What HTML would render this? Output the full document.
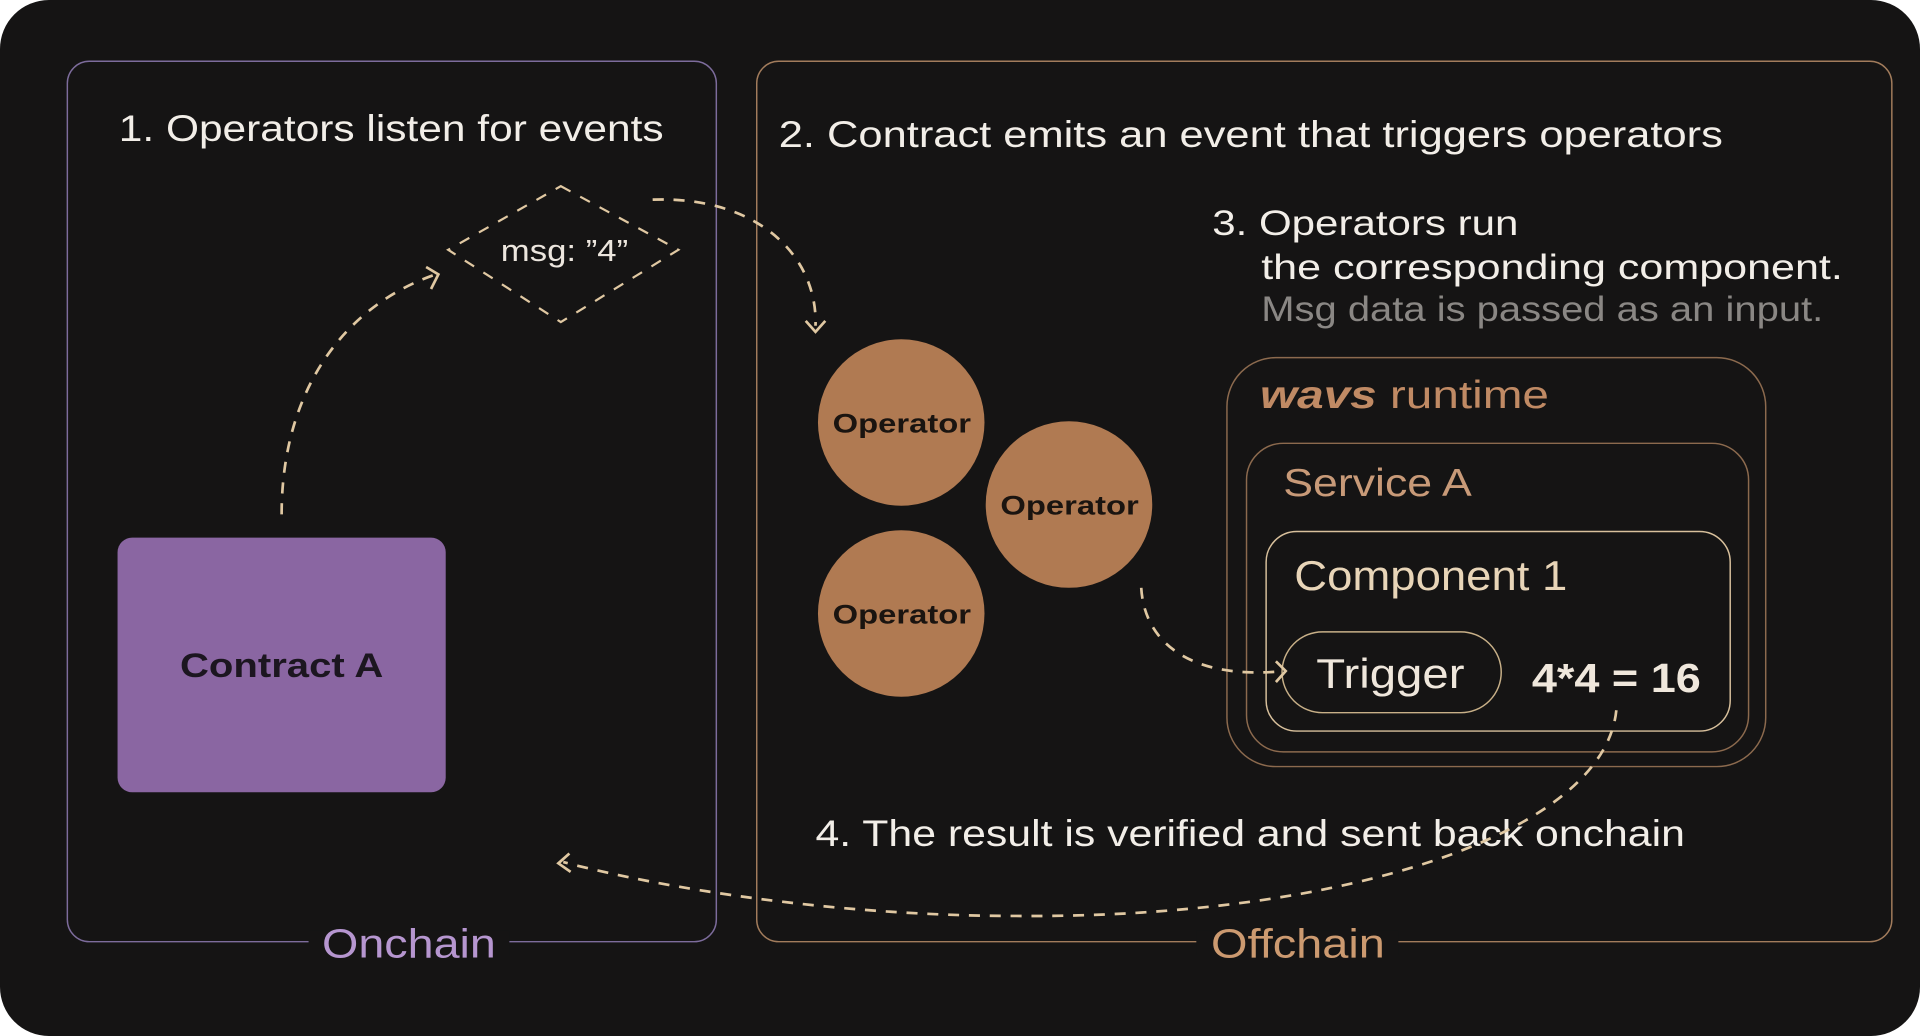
<!DOCTYPE html>
<html><head><meta charset="utf-8"><style>
html,body{margin:0;padding:0;background:#fff;}
svg{display:block;}
text{font-family:"Liberation Sans",sans-serif;}
</style></head><body>
<svg width="1920" height="1036" viewBox="0 0 1568 846" xmlns="http://www.w3.org/2000/svg">
<rect x="0" y="0" width="1568" height="846" rx="40" fill="#151414"/>
<rect x="55" y="50" width="530" height="719" rx="18" fill="none" stroke="#7d6c9c" stroke-width="1.2"/>
<rect x="618" y="50" width="927" height="719" rx="18" fill="none" stroke="#a27c5c" stroke-width="1.2"/>
<rect x="252" y="760" width="164" height="20" fill="#151414"/>
<rect x="977" y="760" width="165" height="20" fill="#151414"/>
<text x="263" y="782" font-size="33" fill="#b696d0" textLength="142" lengthAdjust="spacingAndGlyphs">Onchain</text>
<text x="989" y="782" font-size="33" fill="#cc9a70" textLength="142" lengthAdjust="spacingAndGlyphs">Offchain</text>
<text x="97" y="115" font-size="30" fill="#f2eee8" textLength="445" lengthAdjust="spacingAndGlyphs">1. Operators listen for events</text>
<text x="636" y="120" font-size="30" fill="#f2eee8" textLength="771" lengthAdjust="spacingAndGlyphs">2. Contract emits an event that triggers operators</text>
<text x="990" y="192" font-size="29" fill="#f2eee8" textLength="250" lengthAdjust="spacingAndGlyphs">3. Operators run</text>
<text x="1030" y="228" font-size="29" fill="#f2eee8" textLength="475" lengthAdjust="spacingAndGlyphs">the corresponding component.</text>
<text x="1030" y="262" font-size="29" fill="#8a8784" textLength="459" lengthAdjust="spacingAndGlyphs">Msg data is passed as an input.</text>
<text x="666" y="691" font-size="30" fill="#f2eee8" textLength="710" lengthAdjust="spacingAndGlyphs">4. The result is verified and sent back onchain</text>
<rect x="1002" y="292" width="440" height="334" rx="40" fill="none" stroke="#8c6a4e" stroke-width="1.2"/>
<text x="1029" y="333" font-size="32" fill="#c08a64" textLength="236" lengthAdjust="spacingAndGlyphs"><tspan font-weight="bold" font-style="italic">wavs</tspan> runtime</text>
<rect x="1018" y="362" width="410" height="252" rx="30" fill="none" stroke="#8c6a4e" stroke-width="1.2"/>
<text x="1048" y="405" font-size="32" fill="#c89a78" textLength="154" lengthAdjust="spacingAndGlyphs">Service A</text>
<rect x="1034" y="434" width="379" height="163" rx="25" fill="none" stroke="#d8c09c" stroke-width="1.2"/>
<text x="1057" y="482" font-size="34" fill="#e8d5b8" textLength="223" lengthAdjust="spacingAndGlyphs">Component 1</text>
<rect x="1047" y="516" width="179" height="66" rx="33" fill="none" stroke="#c8b088" stroke-width="1.2"/>
<text x="1075" y="562" font-size="34" fill="#efe7dc" textLength="121" lengthAdjust="spacingAndGlyphs">Trigger</text>
<text x="1251" y="565" font-size="33" fill="#efe7dc" font-weight="bold" textLength="138" lengthAdjust="spacingAndGlyphs">4*4 = 16</text>
<g fill="#b07a52">
<circle cx="736" cy="345" r="68"/><circle cx="873" cy="412" r="68"/><circle cx="736" cy="501" r="68"/>
</g>
<g font-size="22" font-weight="bold" fill="#1a1410">
<text x="680" y="353" textLength="113" lengthAdjust="spacingAndGlyphs">Operator</text>
<text x="817" y="420" textLength="113" lengthAdjust="spacingAndGlyphs">Operator</text>
<text x="680" y="509" textLength="113" lengthAdjust="spacingAndGlyphs">Operator</text>
</g>
<rect x="96" y="439" width="268" height="208" rx="12" fill="#8a66a2"/>
<text x="147" y="553" font-size="28" font-weight="bold" fill="#1c1620" textLength="166" lengthAdjust="spacingAndGlyphs">Contract A</text>
<polygon points="458,152 554,204 458,263 366,204" fill="none" stroke="#e0c8a2" stroke-width="1.8" stroke-dasharray="9,9"/>
<text x="409" y="213" font-size="25" fill="#ece6de" textLength="104" lengthAdjust="spacingAndGlyphs">msg: ”4”</text>
<g fill="none" stroke="#e0c8a2" stroke-width="2.2" stroke-dasharray="9,8">
<path d="M230,420 C230,320 280,250 356,224"/>
<path d="M533,163 C620,160 668,210 666,266"/>
<path d="M932,480 C935,530 980,555 1048,548"/>
<path d="M1320,580 C1310,680 1100,750 830,748 C680,748 540,725 460,704"/>
</g>
<g fill="none" stroke="#e0c8a2" stroke-width="2.2">
<polyline points="348,218 358,224 352,236"/>
<polyline points="658,262 666,271 674,262"/>
<polyline points="1042,540 1050,548 1042,557"/>
<polyline points="465,697 456,705 466,712"/>
</g>
</svg>
</body></html>
